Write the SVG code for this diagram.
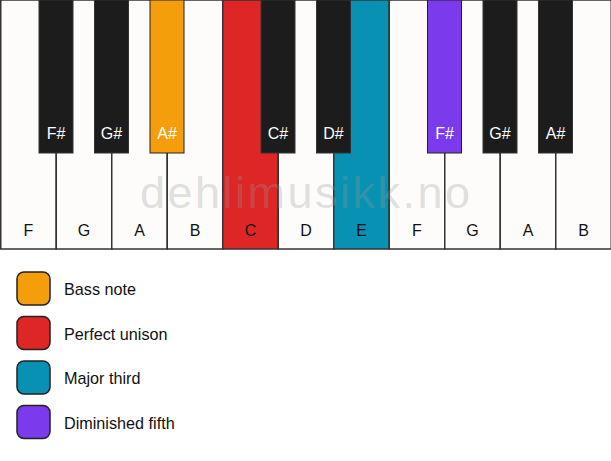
<svg xmlns="http://www.w3.org/2000/svg" width="611" height="461" viewBox="0 0 611 461">
<style>
.w{fill:#fdfcfa;stroke:#333;stroke-width:1.5}
.b{fill:#1c1c1c;stroke:#333;stroke-width:1}
.lw{font-family:"Liberation Sans",Arial,sans-serif;font-size:16px;fill:#111;text-anchor:middle}
.lb{font-family:"Liberation Sans",Arial,sans-serif;font-size:16px;fill:#fff;text-anchor:middle}
.lg{font-family:"Liberation Sans",Arial,sans-serif;font-size:16.2px;fill:#111}
.sq{stroke:#222;stroke-width:1.5}
.wm{font-family:"Liberation Sans",Arial,sans-serif;font-size:45px;fill:#999;fill-opacity:0.3}
</style>
<rect x="0" y="0" width="611" height="461" fill="#ffffff"/>
<g id="white-keys">
<g id="key-F1"><rect class="w" x="0.75" y="0" width="55.5" height="249"/><text class="lw" x="28.5" y="236">F</text></g>
<g id="key-G1"><rect class="w" x="56.25" y="0" width="55.5" height="249"/><text class="lw" x="84" y="236">G</text></g>
<g id="key-A1"><rect class="w" x="111.75" y="0" width="55.5" height="249"/><text class="lw" x="139.5" y="236">A</text></g>
<g id="key-B1"><rect class="w" x="167.25" y="0" width="55.5" height="249"/><text class="lw" x="195" y="236">B</text></g>
<g id="key-C"><rect class="w" x="222.75" y="0" width="55.5" height="249" style="fill:#de2626"/><text class="lw" x="250.5" y="236">C</text></g>
<g id="key-D"><rect class="w" x="278.25" y="0" width="55.5" height="249"/><text class="lw" x="306" y="236">D</text></g>
<g id="key-E"><rect class="w" x="333.75" y="0" width="55.5" height="249" style="fill:#0891b2"/><text class="lw" x="361.5" y="236">E</text></g>
<g id="key-F2"><rect class="w" x="389.25" y="0" width="55.5" height="249"/><text class="lw" x="417" y="236">F</text></g>
<g id="key-G2"><rect class="w" x="444.75" y="0" width="55.5" height="249"/><text class="lw" x="472.5" y="236">G</text></g>
<g id="key-A2"><rect class="w" x="500.25" y="0" width="55.5" height="249"/><text class="lw" x="528" y="236">A</text></g>
<g id="key-B2"><rect class="w" x="555.75" y="0" width="55.5" height="249"/><text class="lw" x="583.5" y="236">B</text></g>
</g>
<text class="wm" x="140" y="207.5" textLength="330" lengthAdjust="spacing">dehlimusikk.no</text>
<g id="black-keys">
<g id="key-Fs1"><rect class="b" x="39" y="0" width="34" height="153"/><text class="lb" x="56" y="139">F#</text></g>
<g id="key-Gs1"><rect class="b" x="94.5" y="0" width="34" height="153"/><text class="lb" x="111.5" y="139">G#</text></g>
<g id="key-As1"><rect class="b" x="150" y="0" width="34" height="153" style="fill:#f59e0b;stroke:#222"/><text class="lb" x="167" y="139">A#</text></g>
<g id="key-Cs"><rect class="b" x="261" y="0" width="34" height="153"/><text class="lb" x="278" y="139">C#</text></g>
<g id="key-Ds"><rect class="b" x="316.5" y="0" width="34" height="153"/><text class="lb" x="333.5" y="139">D#</text></g>
<g id="key-Fs2"><rect class="b" x="427.5" y="0" width="34" height="153" style="fill:#7c3aed;stroke:#222"/><text class="lb" x="444.5" y="139">F#</text></g>
<g id="key-Gs2"><rect class="b" x="483" y="0" width="34" height="153"/><text class="lb" x="500" y="139">G#</text></g>
<g id="key-As2"><rect class="b" x="538.5" y="0" width="34" height="153"/><text class="lb" x="555.5" y="139">A#</text></g>
</g>
<g id="legend">
<g id="legend-bass"><rect class="sq" x="17" y="272" width="33" height="33" rx="7" fill="#f59e0b"/><text class="lg" x="64" y="295">Bass note</text></g>
<g id="legend-unison"><rect class="sq" x="17" y="316.5" width="33" height="33" rx="7" fill="#de2626"/><text class="lg" x="64" y="339.5">Perfect unison</text></g>
<g id="legend-third"><rect class="sq" x="17" y="361" width="33" height="33" rx="7" fill="#0891b2"/><text class="lg" x="64" y="384">Major third</text></g>
<g id="legend-fifth"><rect class="sq" x="17" y="405.5" width="33" height="33" rx="7" fill="#7c3aed"/><text class="lg" x="64" y="428.5">Diminished fifth</text></g>
</g>
</svg>
